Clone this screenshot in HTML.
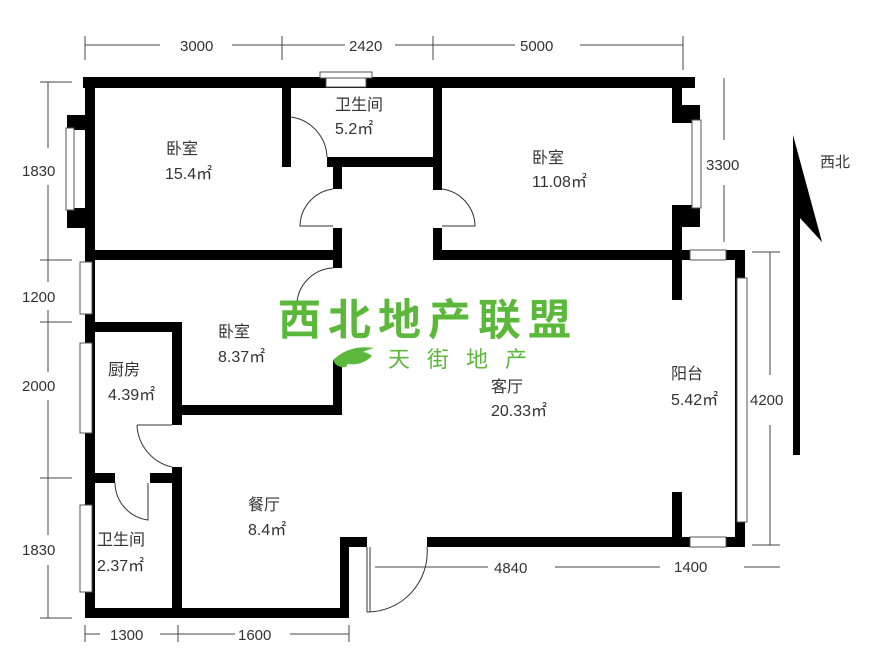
<!DOCTYPE html>
<html><head><meta charset="utf-8"><style>
html,body{margin:0;padding:0;background:#fff;}
svg{display:block;}
text{font-family:"Liberation Sans","Noto Sans CJK SC",sans-serif;fill:#333;}
</style></head><body>
<svg width="883" height="660" viewBox="0 0 883 660" xmlns="http://www.w3.org/2000/svg">
<g fill="#000">
<rect x="83" y="77" width="612" height="11"/>
<rect x="320" y="72" width="52" height="6" fill="#fff" stroke="#555" stroke-width="1"/>
<rect x="326" y="78" width="40" height="9" fill="#fff" stroke="#555" stroke-width="1"/>
<rect x="85" y="77" width="10" height="183"/>
<rect x="67" y="115" width="28" height="15"/>
<rect x="67" y="208" width="28" height="20"/>
<rect x="66" y="128" width="8" height="82" fill="#fff" stroke="#555"/>
<rect x="85" y="250" width="257" height="10"/>
<rect x="282" y="77" width="9" height="90"/>
<rect x="327" y="157" width="115" height="10"/>
<rect x="333" y="157" width="9" height="32"/>
<rect x="333" y="228" width="9" height="40"/>
<rect x="433" y="77" width="9" height="113"/>
<rect x="433" y="228" width="9" height="32"/>
<rect x="433" y="250" width="250" height="10"/>
<rect x="672" y="77" width="10" height="30"/>
<rect x="672" y="105" width="28" height="18"/>
<rect x="672" y="205" width="28" height="22"/>
<rect x="672" y="220" width="10" height="80"/>
<rect x="692" y="120" width="9" height="88" fill="#fff" stroke="#555"/>
<rect x="672" y="250" width="73" height="10"/>
<rect x="690" y="250" width="36" height="10" fill="#fff" stroke="#555"/>
<rect x="735" y="250" width="10" height="297"/>
<rect x="737" y="278" width="10" height="244" fill="#fff" stroke="#555"/>
<rect x="672" y="492" width="10" height="55"/>
<rect x="427" y="537" width="318" height="10"/>
<rect x="690" y="537" width="36" height="10" fill="#fff" stroke="#555"/>
<rect x="340" y="537" width="27" height="10"/>
<rect x="340" y="537" width="9" height="81"/>
<rect x="85" y="608" width="264" height="10"/>
<rect x="85" y="255" width="10" height="363"/>
<rect x="80" y="262" width="12" height="52" fill="#fff" stroke="#555"/>
<rect x="80" y="343" width="12" height="90" fill="#fff" stroke="#555"/>
<rect x="80" y="505" width="12" height="87" fill="#fff" stroke="#555"/>
<rect x="85" y="322" width="97" height="10"/>
<rect x="172" y="322" width="10" height="103"/>
<rect x="172" y="405" width="170" height="10"/>
<rect x="333" y="360" width="9" height="55"/>
<rect x="85" y="473" width="30" height="10"/>
<rect x="150" y="473" width="32" height="10"/>
<rect x="172" y="467" width="10" height="151"/>
</g>
<g fill="none" stroke="#333" stroke-width="1">
<path d="M291 117 A42 42 0 0 1 327 157"/>
<path d="M333 189 A38 38 0 0 0 300 226 L333 226"/>
<path d="M442 189 A38 38 0 0 1 475 226 L442 226"/>
<path d="M333 268 A38 38 0 0 0 297 302"/>
<path d="M137 425 L172 425 M137 425 A45 45 0 0 0 172 467"/>
<path d="M115 483 A38 38 0 0 0 148 520 L148 483"/>
<path d="M367 547 L367 612 M427 547 A60 60 0 0 1 367 612 M370 547 L370 612"/>
</g>
<g stroke="#444" stroke-width="1" fill="none">
<line x1="85" y1="45" x2="160" y2="45"/><line x1="232" y1="45" x2="345" y2="45"/><line x1="395" y1="45" x2="515" y2="45"/><line x1="580" y1="45" x2="683" y2="45"/>
<line x1="85" y1="36" x2="85" y2="60"/><line x1="282" y1="36" x2="282" y2="60"/><line x1="433" y1="36" x2="433" y2="60"/><line x1="683" y1="36" x2="683" y2="70"/>
<line x1="48" y1="82" x2="48" y2="148"/><line x1="48" y1="185" x2="48" y2="282"/><line x1="48" y1="310" x2="48" y2="372"/><line x1="48" y1="400" x2="48" y2="535"/><line x1="48" y1="565" x2="48" y2="618"/>
<line x1="40" y1="82" x2="72" y2="82"/><line x1="40" y1="260" x2="72" y2="260"/><line x1="40" y1="322" x2="72" y2="322"/><line x1="40" y1="478" x2="72" y2="478"/><line x1="40" y1="618" x2="72" y2="618"/>
<line x1="85" y1="634" x2="100" y2="634"/><line x1="160" y1="634" x2="235" y2="634"/><line x1="290" y1="634" x2="349" y2="634"/>
<line x1="85" y1="625" x2="85" y2="642"/><line x1="178" y1="625" x2="178" y2="642"/><line x1="349" y1="625" x2="349" y2="642"/>
<line x1="375" y1="567" x2="488" y2="567"/><line x1="555" y1="567" x2="660" y2="567"/>
<line x1="744" y1="567" x2="780" y2="567"/>
<line x1="724" y1="78" x2="724" y2="140"/><line x1="724" y1="185" x2="724" y2="242"/>
<line x1="770" y1="252" x2="770" y2="375"/><line x1="770" y1="425" x2="770" y2="545"/>
<line x1="752" y1="252" x2="780" y2="252"/><line x1="752" y1="545" x2="780" y2="545"/>
</g>
<g font-size="15">
<text x="180" y="51">3000</text><text x="349" y="51">2420</text><text x="520" y="51">5000</text>
<text x="22" y="176">1830</text><text x="22" y="302">1200</text><text x="22" y="391">2000</text><text x="22" y="555">1830</text>
<text x="110" y="640">1300</text><text x="238" y="640">1600</text>
<text x="494" y="573">4840</text><text x="674" y="572">1400</text>
<text x="706" y="170">3300</text><text x="750" y="405">4200</text>
</g>
<polygon points="793,135 822,242 800,218 800,455 793,455" fill="#000"/>
<text x="820" y="167" font-size="15">西北</text>
<g font-size="16">
<text x="166" y="154">卧室</text><text x="165" y="179">15.4㎡</text>
<text x="335" y="110">卫生间</text><text x="335" y="134">5.2㎡</text>
<text x="532" y="163">卧室</text><text x="532" y="187">11.08㎡</text>
<text x="218" y="337">卧室</text><text x="218" y="362">8.37㎡</text>
<text x="108" y="375">厨房</text><text x="108" y="400">4.39㎡</text>
<text x="491" y="392">客厅</text><text x="491" y="416">20.33㎡</text>
<text x="671" y="379">阳台</text><text x="671" y="405">5.42㎡</text>
<text x="248" y="510">餐厅</text><text x="248" y="535">8.4㎡</text>
<text x="97" y="545">卫生间</text><text x="97" y="571">2.37㎡</text>
</g>
<text x="278" y="335" font-size="43" font-weight="bold" style="fill:#5cb83a" letter-spacing="7">西北地产联盟</text>
<path d="M333 360 Q350 344 374 348 Q352 354 346 367 Q336 368 333 360Z" fill="#5cb83a"/>
<path d="M352 352 Q365 350 372 356 Q362 366 348 364Z" fill="#5cb83a"/>
<text x="388" y="367" font-size="22" style="fill:#5cb83a" letter-spacing="17">天街地产</text>
</svg>
</body></html>
